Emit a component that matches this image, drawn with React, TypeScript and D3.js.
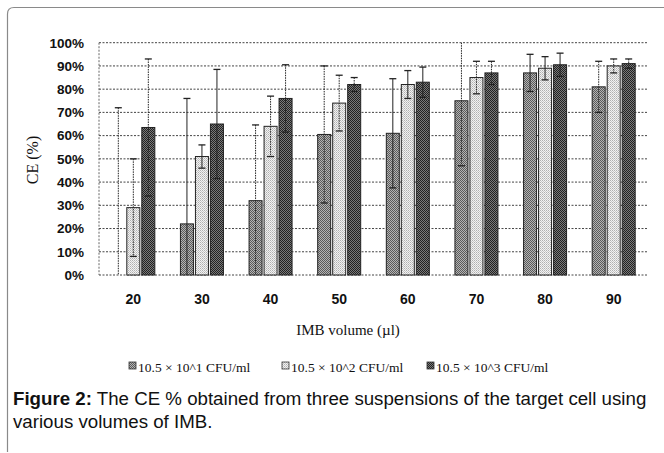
import React from "react";
import * as d3 from "d3";

const categories = ["20", "30", "40", "50", "60", "70", "80", "90"];
const seriesNames = ["10.5 × 10^1 CFU/ml", "10.5 × 10^2 CFU/ml", "10.5 × 10^3 CFU/ml"];
const s1Values = [0, 22, 32, 60.5, 61, 75, 87, 81];
const s1Errors = [72, 54, 32.6, 29.5, 23.5, 28, 8, 11];
const s2Values = [29, 51, 64, 74, 82, 85, 89, 90];
const s2Errors = [21, 5, 13, 12, 6, 7, 5, 3];
const s3Values = [63.5, 65, 76, 82, 83, 87, 90.5, 91];
const s3Errors = [29.5, 23.5, 14.5, 3, 6.5, 5, 5, 2];
const yTicks = [0, 10, 20, 30, 40, 50, 60, 70, 80, 90, 100];

// style: whether each category's error bars are dotted (true) or solid (false)
const errDotted = [true, false, true, true, false, true, false, true];

const values = [s1Values, s2Values, s3Values];
const errors = [s1Errors, s2Errors, s3Errors];
const patternIds = ["pat1", "pat2", "pat3"];

export default function App() {
  const W = 664, H = 453;
  const left = 99, right = 648, top = 42.7, bottom = 275;
  const x = d3.scaleBand<string>().domain(categories).range([left, right]).padding(0);
  const xs = d3.scaleBand<number>().domain([0, 1, 2]).range([-21.5, 21.5]).paddingInner(2 / 15).paddingOuter(0);
  const y = d3.scaleLinear().domain([0, 100]).range([bottom, top]);
  const clamp = (v: number) => Math.max(0, Math.min(100, v));

  const tickFont = "'Liberation Sans', Arial, sans-serif";
  const serif = "'Liberation Serif', 'Times New Roman', serif";

  return (
    <svg width={W} height={H} style={{ position: "absolute", left: 0, top: 0, background: "#fff" }}>
      <defs>
        <pattern id="pat1" width={2} height={2} patternUnits="userSpaceOnUse">
          <rect width={2} height={2} fill="#b4b4b4" />
          <rect x={0} y={0} width={1} height={1} fill="#5a5a5a" />
          <rect x={1} y={1} width={1} height={1} fill="#5a5a5a" />
        </pattern>
        <pattern id="pat2" width={2} height={2} patternUnits="userSpaceOnUse">
          <rect width={2} height={2} fill="#f2f2f2" />
          <rect x={0} y={0} width={1} height={1} fill="#b0b0b0" />
          <rect x={1} y={1} width={1} height={1} fill="#c8c8c8" />
        </pattern>
        <pattern id="pat3" width={2} height={2} patternUnits="userSpaceOnUse">
          <rect width={2} height={2} fill="#7a7a7a" />
          <rect x={0} y={0} width={1} height={1} fill="#222" />
          <rect x={1} y={1} width={1} height={1} fill="#222" />
        </pattern>
      </defs>

      {/* frame */}
      <path d={`M7.5,452 L7.5,14 Q7.5,7.5 14,7.5 L664,7.5`} fill="none" stroke="#8a8a8a" strokeWidth={1.2} />

      {/* gridlines */}
      {yTicks.map((t) => (
        <line key={t} x1={left} x2={right} y1={y(t)} y2={y(t)} stroke="#444" strokeWidth={1} strokeDasharray="2,1.5" />
      ))}
      <line x1={left} x2={left} y1={top} y2={bottom} stroke="#666" strokeWidth={1} strokeDasharray="2,1.5" />

      {/* y tick labels */}
      {yTicks.map((t) => (
        <text key={t} x={84} y={y(t) + 4.8} textAnchor="end" fontFamily={tickFont} fontWeight="bold" fontSize={13.5} fill="#111">
          {t}%
        </text>
      ))}

      {/* bars */}
      {categories.map((c, ci) => {
        const cx = (x(c) as number) + x.bandwidth() / 2;
        return (
          <g key={c}>
            {values.map((vals, si) => {
              const v = vals[ci];
              const bx = cx + (xs(si) as number);
              const bw = xs.bandwidth();
              return v > 0 ? (
                <rect key={si} x={bx} y={y(v)} width={bw} height={y(0) - y(v)} fill={`url(#${patternIds[si]})`} stroke="#222" strokeWidth={1} />
              ) : null;
            })}
            {values.map((vals, si) => {
              const v = vals[ci];
              const e = errors[si][ci];
              const ex = cx + (xs(si) as number) + xs.bandwidth() / 2;
              const hi = v + e, lo = v - e;
              const yHi = y(clamp(hi)), yLo = y(clamp(lo));
              const dash = errDotted[ci] ? "1.5,1" : undefined;
              return (
                <g key={"e" + si} stroke="#222" strokeWidth={1}>
                  <line x1={ex} x2={ex} y1={yHi} y2={yLo} strokeDasharray={dash} />
                  {hi <= 100 && <line x1={ex - 3.5} x2={ex + 3.5} y1={yHi} y2={yHi} strokeWidth={1.3} />}
                  {lo >= 0 && <line x1={ex - 3.5} x2={ex + 3.5} y1={yLo} y2={yLo} strokeWidth={1.3} />}
                </g>
              );
            })}
          </g>
        );
      })}

      {/* x tick labels */}
      {categories.map((c) => (
        <text key={c} x={(x(c) as number) + x.bandwidth() / 2} y={304} textAnchor="middle" fontFamily={tickFont} fontWeight="bold" fontSize={14} fill="#111">
          {c}
        </text>
      ))}

      {/* axis titles */}
      <text x={348} y={335} textAnchor="middle" fontFamily={serif} fontSize={15} fill="#111">
        IMB volume (µl)
      </text>
      <text transform={`translate(38,160) rotate(-90)`} textAnchor="middle" fontFamily={serif} fontSize={16} fill="#111">
        CE (%)
      </text>

      {/* legend */}
      {seriesNames.map((n, i) => {
        const lx = [129, 282, 427][i];
        return (
          <g key={n}>
            <rect x={lx} y={362} width={7} height={7} fill={`url(#${patternIds[i]})`} stroke="#333" strokeWidth={0.8} />
            <text x={lx + 9} y={372} fontFamily={serif} fontSize={13.5} fill="#111">
              {n}
            </text>
          </g>
        );
      })}

      {/* caption */}
      <text x={13} y={405} fontFamily={tickFont} fontSize={18.7} fill="#111">
        <tspan fontWeight="bold">Figure 2:</tspan> The CE % obtained from three suspensions of the target cell using
      </text>
      <text x={13} y={428} fontFamily={tickFont} fontSize={18.7} fill="#111">
        various volumes of IMB.
      </text>
    </svg>
  );
}
